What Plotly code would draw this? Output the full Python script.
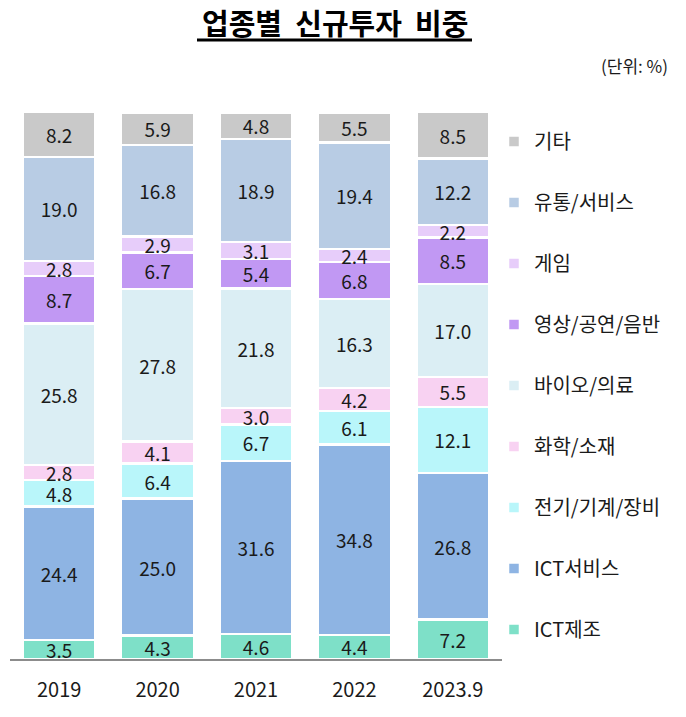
import plotly.graph_objects as go

years = ["2019", "2020", "2021", "2022", "2023.9"]
series_names = ["ICT제조", "ICT서비스", "전기/기계/장비", "화학/소재", "바이오/의료",
                "영상/공연/음반", "게임", "유통/서비스", "기타"]
ict_manu = [3.5, 4.3, 4.6, 4.4, 7.2]
ict_serv = [24.4, 25.0, 31.6, 34.8, 26.8]
elec = [4.8, 6.4, 6.7, 6.1, 12.1]
chem = [2.8, 4.1, 3.0, 4.2, 5.5]
bio = [25.8, 27.8, 21.8, 16.3, 17.0]
media = [8.7, 6.7, 5.4, 6.8, 8.5]
game = [2.8, 2.9, 3.1, 2.4, 2.2]
retail = [19.0, 16.8, 18.9, 19.4, 12.2]
etc = [8.2, 5.9, 4.8, 5.5, 8.5]
values = [ict_manu, ict_serv, elec, chem, bio, media, game, retail, etc]
colors = ["#7EE0C8", "#8EB4E3", "#B9F6FA", "#F8D2F2", "#DBEEF4",
          "#C198F3", "#E7CDFA", "#B8CCE4", "#C9C9C9"]

FONT = "Noto Sans CJK KR"
L, R, T, B = 10, 502, 112, 659
PW, PH = R - L, B - T

fig = go.Figure()
n = len(series_names)
for i, (name, vals, col) in enumerate(zip(series_names, values, colors)):
    fig.add_trace(go.Bar(
        x=years, y=vals, name=name, legendgroup=name, legendrank=n - i,
        marker=dict(color=col, line=dict(color="white", width=2.5)),
        text=[f"{v:.1f}" for v in vals], textposition="inside", textangle=0,
        insidetextanchor="middle", constraintext="none",
        textfont=dict(family=FONT, size=19, color="#1a1a1a"),
        cliponaxis=False, hoverinfo="skip",
    ))

fig.update_layout(
    barmode="stack", bargap=0.26,
    width=686, height=717,
    margin=dict(l=L, r=686 - R, t=T, b=717 - B, autoexpand=False),
    paper_bgcolor="white", plot_bgcolor="white",
    font=dict(family=FONT, color="#1a1a1a"),
    xaxis=dict(showline=True, linecolor="#8c8c8c", linewidth=2, ticks="",
               ticklabelstandoff=12,
               tickfont=dict(size=20, family=FONT, color="#1a1a1a"), showgrid=False,
               zeroline=False),
    yaxis=dict(range=[0, 100], visible=False, showgrid=False),
    legend=dict(x=(494 - L) / PW, xanchor="left", y=1 - (122 - T) / PH, yanchor="top",
                traceorder="grouped", tracegroupgap=32, maxheight=1.0,
                font=dict(size=20, family=FONT, color="#1a1a1a"),
                itemclick=False),
    annotations=[
        dict(text="<b>업종별  신규투자  비중</b>", xref="paper", yref="paper",
             x=(335 - L) / PW, y=1.0 + (T - 22) / PH, xanchor="center", yanchor="middle",
             showarrow=False, font=dict(size=29, family=FONT, color="black")),
        dict(text="(단위: %)", xref="paper", yref="paper",
             x=(670 - L) / PW, y=1.0 + (T - 66) / PH, xanchor="right", yanchor="middle",
             showarrow=False, font=dict(size=17, family=FONT, color="#1a1a1a")),
    ],
    shapes=[dict(type="line", xref="paper", yref="paper",
                 x0=(197 - L) / PW, x1=(472 - L) / PW,
                 y0=1.0 + (T - 40) / PH, y1=1.0 + (T - 40) / PH,
                 line=dict(color="black", width=3))],
)
fig.write_html("out.html", config={"displayModeBar": False},
               post_script="document.body.style.margin='0';")
